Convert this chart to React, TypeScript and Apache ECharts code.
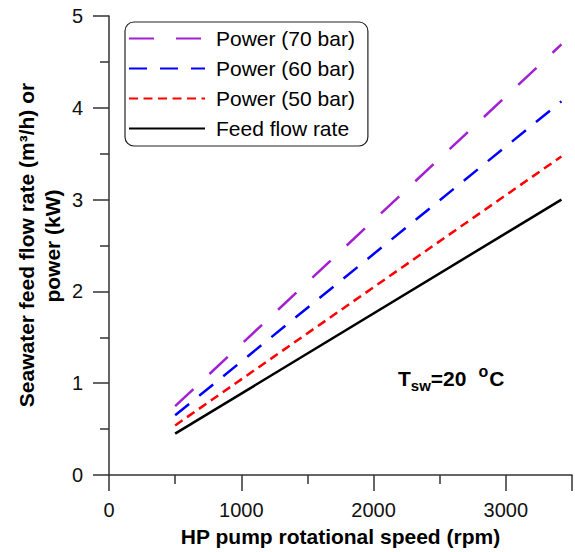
import React, { useEffect, useRef } from "react";
import * as echarts from "echarts";

const rpm = [500, 3420];
const feedFlow = [0.45, 3.0];
const power50 = [0.54, 3.47];
const power60 = [0.65, 4.07];
const power70 = [0.75, 4.69];
const seriesNames = ["Power (70 bar)", "Power (60 bar)", "Power (50 bar)", "Feed flow rate"];
const xTicks = [0, 1000, 2000, 3000];

const FONT = "'Liberation Sans', Arial, sans-serif";

export default function App() {
  const ref = useRef<HTMLDivElement>(null);
  useEffect(() => {
    if (!ref.current) return;
    const chart = echarts.init(ref.current, null, { renderer: "svg" });
    const pts = (ys: number[]) => rpm.map((x, i) => [x, ys[i]]);
    const axisColor = "#333";
    const mk = (name: string, ys: number[], color: string, type: any) => ({
      name,
      type: "line",
      data: pts(ys),
      symbol: "none",
      lineStyle: { color, width: 2.5, type, cap: "butt" },
      itemStyle: { color },
    });
    chart.setOption({
      animation: false,
      textStyle: { fontFamily: FONT },
      grid: { left: 109, right: 2, top: 16, bottom: 77 },
      xAxis: {
        type: "value",
        min: 0,
        max: 3500,
        interval: 1000,
        name: "HP pump rotational speed (rpm)",
        nameLocation: "middle",
        nameGap: 51,
        nameTextStyle: { fontSize: 21, fontWeight: "bold", color: "#000", fontFamily: FONT },
        axisLine: { lineStyle: { color: axisColor, width: 1.5 } },
        axisTick: { length: 16, lineStyle: { color: axisColor, width: 1.5 } },
        minorTick: { show: true, splitNumber: 2, length: 9, lineStyle: { color: axisColor, width: 1.5 } },
        axisLabel: {
          fontSize: 20,
          color: "#111",
          margin: 25,
          fontFamily: FONT,
          formatter: (v: number) => (xTicks.includes(v) ? String(v) : ""),
        },
        splitLine: { show: false },
        minorSplitLine: { show: false },
      },
      yAxis: {
        type: "value",
        min: 0,
        max: 5,
        interval: 1,
        axisLine: { show: true, lineStyle: { color: axisColor, width: 1.5 } },
        axisTick: { show: true, length: 16, lineStyle: { color: axisColor, width: 1.5 } },
        minorTick: { show: true, splitNumber: 2, length: 9, lineStyle: { color: axisColor, width: 1.5 } },
        axisLabel: { fontSize: 20, color: "#111", margin: 26, fontFamily: FONT },
        splitLine: { show: false },
        minorSplitLine: { show: false },
      },
      legend: {
        orient: "vertical",
        left: 125,
        top: 22,
        data: seriesNames,
        backgroundColor: "#fff",
        borderColor: "#222",
        borderWidth: 1.2,
        borderRadius: 9,
        padding: [6, 13, 7, 3],
        itemWidth: 76,
        itemHeight: 14,
        itemGap: 9,
        itemStyle: { opacity: 0 },
        textStyle: { fontSize: 21, color: "#000", fontFamily: FONT, padding: [0, 0, 0, 6] },
      },
      series: [
        mk(seriesNames[0], power70, "#a41fd1", [25, 22]),
        mk(seriesNames[1], power60, "#0000ff", [18, 13]),
        mk(seriesNames[2], power50, "#ff0000", [9, 5.5]),
        mk(seriesNames[3], feedFlow, "#000000", "solid"),
      ],
      graphic: [
        {
          type: "text",
          x: 26,
          y: 245,
          rotation: Math.PI / 2,
          style: {
            text: "Seawater feed flow rate (m³/h) or",
            font: `bold 21px ${FONT}`,
            fill: "#000",
            textAlign: "center",
            textVerticalAlign: "middle",
          },
        },
        {
          type: "text",
          x: 52,
          y: 246,
          rotation: Math.PI / 2,
          style: {
            text: "power (kW)",
            font: `bold 21px ${FONT}`,
            fill: "#000",
            textAlign: "center",
            textVerticalAlign: "middle",
          },
        },
        {
          type: "text",
          x: 398,
          y: 378,
          style: {
            text: "{t|T}{s|sw}{t|=20}{p|o}{t|C}",
            textAlign: "left",
            textVerticalAlign: "middle",
            fill: "#000",
            rich: {
              t: { fontSize: 21, fontWeight: "bold", fontFamily: FONT, lineHeight: 30, verticalAlign: "middle", fill: "#000" },
              s: { fontSize: 15, fontWeight: "bold", fontFamily: FONT, lineHeight: 30, verticalAlign: "bottom", fill: "#000" },
              p: { fontSize: 16, fontWeight: "bold", fontFamily: FONT, lineHeight: 30, verticalAlign: "top", fill: "#000", padding: [0, 1, 0, 12] },
            },
          },
        },
      ],
    });
    return () => chart.dispose();
  }, []);
  return (
    <div
      ref={ref}
      style={{ position: "fixed", left: 0, top: 0, width: 575, height: 552, background: "#fff" }}
    />
  );
}
